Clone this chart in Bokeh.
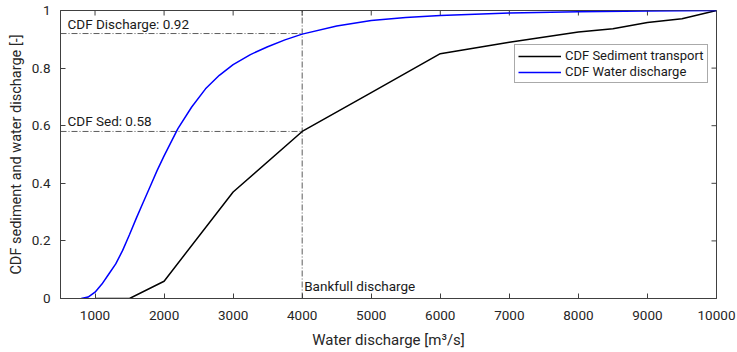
import math
from bokeh.plotting import figure
from bokeh.models import FixedTicker, CustomJSTickFormatter, Legend, LegendItem, Range1d
from bokeh.core.properties import value
from bokeh.embed import file_html
from bokeh.resources import INLINE

# ---- data ----
sed_q = [1000, 1500, 2000, 3000, 4000, 5000, 6000, 7000, 8000, 8500, 9000, 9500, 10000]
sed_cdf = [0.0, 0.0, 0.06, 0.37, 0.58, 0.715, 0.85, 0.89, 0.925, 0.937, 0.958, 0.971, 1.0]

water_q = [800, 900, 1000, 1100, 1200, 1300, 1400, 1500, 1600, 1700, 1800, 1900, 2000,
           2200, 2400, 2600, 2800, 3000, 3250, 3500, 3750, 4000, 4500, 5000, 5500, 6000,
           7000, 8000, 9000, 10000]
water_cdf = [0.0, 0.005, 0.022, 0.05, 0.085, 0.12, 0.167, 0.222, 0.28, 0.335, 0.39, 0.445,
             0.495, 0.59, 0.665, 0.728, 0.775, 0.812, 0.847, 0.874, 0.898, 0.918, 0.946,
             0.965, 0.976, 0.983, 0.991, 0.996, 0.998, 1.0]

bankfull_q = 4000
cdf_discharge = 0.92
cdf_sed = 0.58

x_ticks = [1000, 2000, 3000, 4000, 5000, 6000, 7000, 8000, 9000, 10000]
y_ticks = [0, 0.2, 0.4, 0.6, 0.8, 1]
x_lim = (500, 10000)
y_lim = (0, 1)

FONT = "Roboto"
AX_COLOR = "#404040"
TXT_COLOR = "#1a1a1a"

p = figure(width=737, height=352, output_backend="svg", toolbar_location=None,
           x_range=Range1d(*x_lim), y_range=Range1d(*y_lim),
           min_border_left=60, min_border_right=21, min_border_top=10, min_border_bottom=54,
           x_axis_label="Water discharge [m³/s]",
           y_axis_label="CDF sediment and water discharge [-]")
p.grid.visible = False
p.outline_line_color = AX_COLOR
p.outline_line_width = 1

fmt = CustomJSTickFormatter(code="return String(Math.round(tick*1000)/1000);")

for ax, ticks in ((p.xaxis[0], x_ticks), (p.yaxis[0], y_ticks)):
    ax.ticker = FixedTicker(ticks=ticks)
    ax.formatter = fmt
    ax.major_tick_in = 5
    ax.major_tick_out = 0
    ax.minor_tick_in = 0
    ax.minor_tick_out = 0
    ax.axis_line_color = AX_COLOR
    ax.major_tick_line_color = AX_COLOR
    ax.major_label_text_font = FONT
    ax.major_label_text_font_size = "13.5px"
    ax.major_label_text_color = "#262626"
    ax.axis_label_text_font = FONT
    ax.axis_label_text_font_style = "normal"
    ax.axis_label_text_color = "#262626"

p.xaxis[0].axis_label_text_font_size = "15px"
p.yaxis[0].axis_label_text_font_size = "14.5px"
p.xaxis[0].major_label_standoff = 12
p.xaxis[0].axis_label_standoff = 8
p.yaxis[0].major_label_standoff = 10
p.yaxis[0].axis_label_standoff = 4

# inward ticks on the top and right edges of the box (clipped to the frame)
p.scatter(x_ticks, [y_lim[1]] * len(x_ticks), marker="dash", size=10, angle=math.pi / 2,
          line_color=AX_COLOR, line_width=1)
p.scatter([x_lim[1]] * len(y_ticks), y_ticks, marker="dash", size=10,
          line_color=AX_COLOR, line_width=1)

# reference lines
dash = "6 2 1 2"
p.line([x_lim[0], bankfull_q], [cdf_discharge, cdf_discharge], line_color="#333333",
       line_width=0.8, line_dash=dash)
p.line([x_lim[0], bankfull_q], [cdf_sed, cdf_sed], line_color="#333333",
       line_width=0.8, line_dash=dash)
p.line([bankfull_q, bankfull_q], list(y_lim), line_color="#333333",
       line_width=0.8, line_dash=dash)

r_sed = p.line(sed_q, sed_cdf, line_color="black", line_width=1.5)
r_wat = p.line(water_q, water_cdf, line_color="#0000ff", line_width=1.5)

# annotations
p.text(x=[x_lim[0]], y=[cdf_discharge], text=[f"CDF Discharge: {cdf_discharge}"],
       x_offset=7, y_offset=-2, text_baseline="bottom", text_align="left",
       text_font=value(FONT), text_font_size="13.5px", text_color=TXT_COLOR)
p.text(x=[x_lim[0]], y=[cdf_sed], text=[f"CDF Sed: {cdf_sed}"],
       x_offset=7, y_offset=-2, text_baseline="bottom", text_align="left",
       text_font=value(FONT), text_font_size="13.5px", text_color=TXT_COLOR)
p.text(x=[bankfull_q], y=[y_lim[0]], text=["Bankfull discharge"],
       x_offset=2, y_offset=-5, text_baseline="bottom", text_align="left",
       text_font=value(FONT), text_font_size="13.5px", text_color=TXT_COLOR)

legend = Legend(items=[LegendItem(label="CDF Sediment transport", renderers=[r_sed]),
                       LegendItem(label="CDF Water discharge", renderers=[r_wat])],
                location=(454, 215))
legend.border_line_color = "#555555"
legend.border_line_width = 1
legend.padding = 3
legend.spacing = 1
legend.margin = 0
legend.glyph_width = 43
legend.glyph_height = 14
legend.label_height = 14
legend.label_standoff = 4
legend.label_text_font = FONT
legend.label_text_font_size = "13px"
legend.label_text_color = TXT_COLOR
legend.background_fill_alpha = 1
p.add_layout(legend, "center")

open("out.html", "w").write(file_html(p, INLINE))
